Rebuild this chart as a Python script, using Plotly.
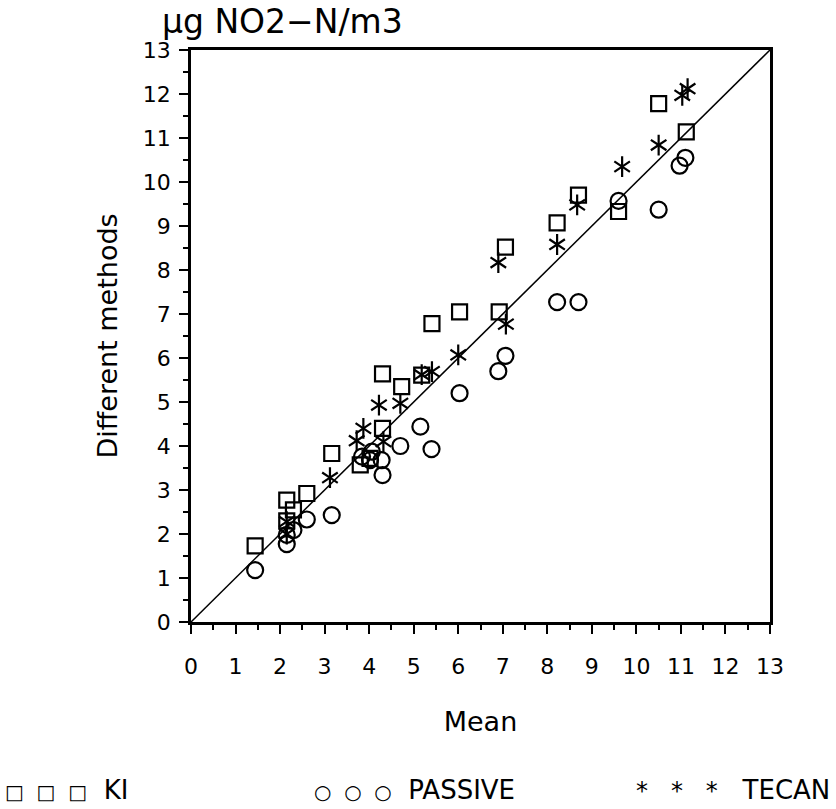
import plotly.graph_objects as go

# ---- data ----
ki_mean = [1.44, 2.15, 2.15, 2.3, 2.6, 3.16, 3.8, 4.02, 4.3, 4.3, 4.73, 5.18,
           5.41, 6.03, 6.92, 7.06, 8.22, 8.7, 9.6, 10.5, 11.12]
ki_val = [1.73, 2.77, 2.3, 2.55, 2.92, 3.83, 3.57, 3.72, 4.4, 5.64, 5.35, 5.61,
          6.78, 7.05, 7.05, 8.52, 9.07, 9.7, 9.33, 11.78, 11.14]

passive_mean = [1.44, 2.15, 2.15, 2.3, 2.6, 3.16, 3.84, 4.02, 4.28, 4.3, 4.06, 4.7,
                5.15, 5.4, 6.03, 6.9, 7.06, 8.22, 8.7, 9.6, 10.5, 10.97, 11.1]
passive_val = [1.18, 1.98, 1.77, 2.09, 2.33, 2.43, 3.76, 3.68, 3.68, 3.34, 3.87, 4.0,
               4.44, 3.93, 5.2, 5.7, 6.05, 7.27, 7.27, 9.57, 9.37, 10.37, 10.55]

tecan_mean = [2.15, 2.15, 3.12, 3.72, 3.87, 4.32, 4.22, 4.7, 5.18, 5.41, 6.0,
              6.9, 7.07, 8.22, 8.67, 9.68, 10.5, 11.03, 11.15]
tecan_val = [2.0, 2.28, 3.28, 4.12, 4.4, 4.1, 4.93, 4.97, 5.62, 5.69, 6.07,
             8.17, 6.77, 8.58, 9.48, 10.35, 10.84, 11.97, 12.12]

axis_min, axis_max = 0, 13
tick_vals = list(range(0, 14))
tick_text = [str(v) for v in tick_vals]

FONT = "DejaVu Sans"

fig = go.Figure()

# 1:1 line
fig.add_trace(go.Scatter(x=[axis_min, axis_max], y=[axis_min, axis_max], mode="lines",
                         line=dict(color="black", width=1.5), showlegend=False,
                         hoverinfo="skip"))

fig.add_trace(go.Scatter(x=ki_mean, y=ki_val, mode="markers", name="KI",
                         marker=dict(symbol="square-open", size=15, color="black",
                                     line=dict(width=2.2, color="black")),
                         showlegend=False))
fig.add_trace(go.Scatter(x=passive_mean, y=passive_val, mode="markers", name="PASSIVE",
                         marker=dict(symbol="circle-open", size=16, color="black",
                                     line=dict(width=2.2, color="black")),
                         showlegend=False))
for sym in ["y-up-open", "y-down-open"]:
    fig.add_trace(go.Scatter(x=tecan_mean, y=tecan_val, mode="markers", name="TECAN",
                             marker=dict(symbol=sym, size=13, color="black",
                                         line=dict(width=2.2, color="black")),
                             showlegend=False))

axis_common = dict(
    range=[axis_min, axis_max],
    tickmode="array", tickvals=tick_vals, ticktext=tick_text,
    ticks="outside", ticklen=9, tickwidth=2, tickcolor="black",
    showline=True, linecolor="black", linewidth=2.5, mirror=True,
    showgrid=False, zeroline=False,
    tickfont=dict(family=FONT, size=22, color="black"),
    minor=dict(dtick=0.5, tick0=0, ticks="outside", ticklen=5, tickwidth=2,
               tickcolor="black", showgrid=False),
)

fig.update_xaxes(**axis_common, ticklabelstandoff=14,
                 title=dict(text="Mean", font=dict(family=FONT, size=27, color="black"),
                            standoff=34))
fig.update_yaxes(**axis_common, ticklabelstandoff=4,
                 title=dict(text="Different methods",
                            font=dict(family=FONT, size=27, color="black"),
                            standoff=18))

L, R, T, B = 191, 66, 50, 187
W, H = 836, 809
pw, ph = W - L - R, H - T - B

def px(xp):
    return (xp - L) / pw

def py(yp):
    return (H - B - yp) / ph

SYM = "<span style='font-size:20px'>{s}&nbsp;&nbsp;{s}&nbsp;&nbsp;{s}</span>&nbsp;&nbsp;"

annotations = [
    dict(text="\u03bcg NO2\u2212N/m3", x=px(160), y=py(22), xref="paper", yref="paper",
         xanchor="left", yanchor="middle", showarrow=False,
         font=dict(family=FONT, size=33, color="black")),
    dict(text=SYM.format(s="\u25a1") + "KI", x=px(3), y=py(790), xref="paper", yref="paper",
         xanchor="left", yanchor="middle", showarrow=False,
         font=dict(family=FONT, size=26, color="black")),
    dict(text=SYM.format(s="\u25cb") + "PASSIVE", x=px(312), y=py(790), xref="paper", yref="paper",
         xanchor="left", yanchor="middle", showarrow=False,
         font=dict(family=FONT, size=26, color="black")),
    dict(text="<span style='font-size:24px'>*&nbsp;&nbsp;&nbsp;*&nbsp;&nbsp;&nbsp;*</span>&nbsp;&nbsp;&nbsp;TECAN",
         x=px(832), y=py(790), xref="paper", yref="paper",
         xanchor="right", yanchor="middle", showarrow=False,
         font=dict(family=FONT, size=26, color="black")),
]

fig.update_layout(
    width=W, height=H,
    margin=dict(l=L, r=R, t=T, b=B),
    paper_bgcolor="white", plot_bgcolor="white",
    annotations=annotations,
    font=dict(family=FONT, color="black"),
)

fig.write_html("out.html")
